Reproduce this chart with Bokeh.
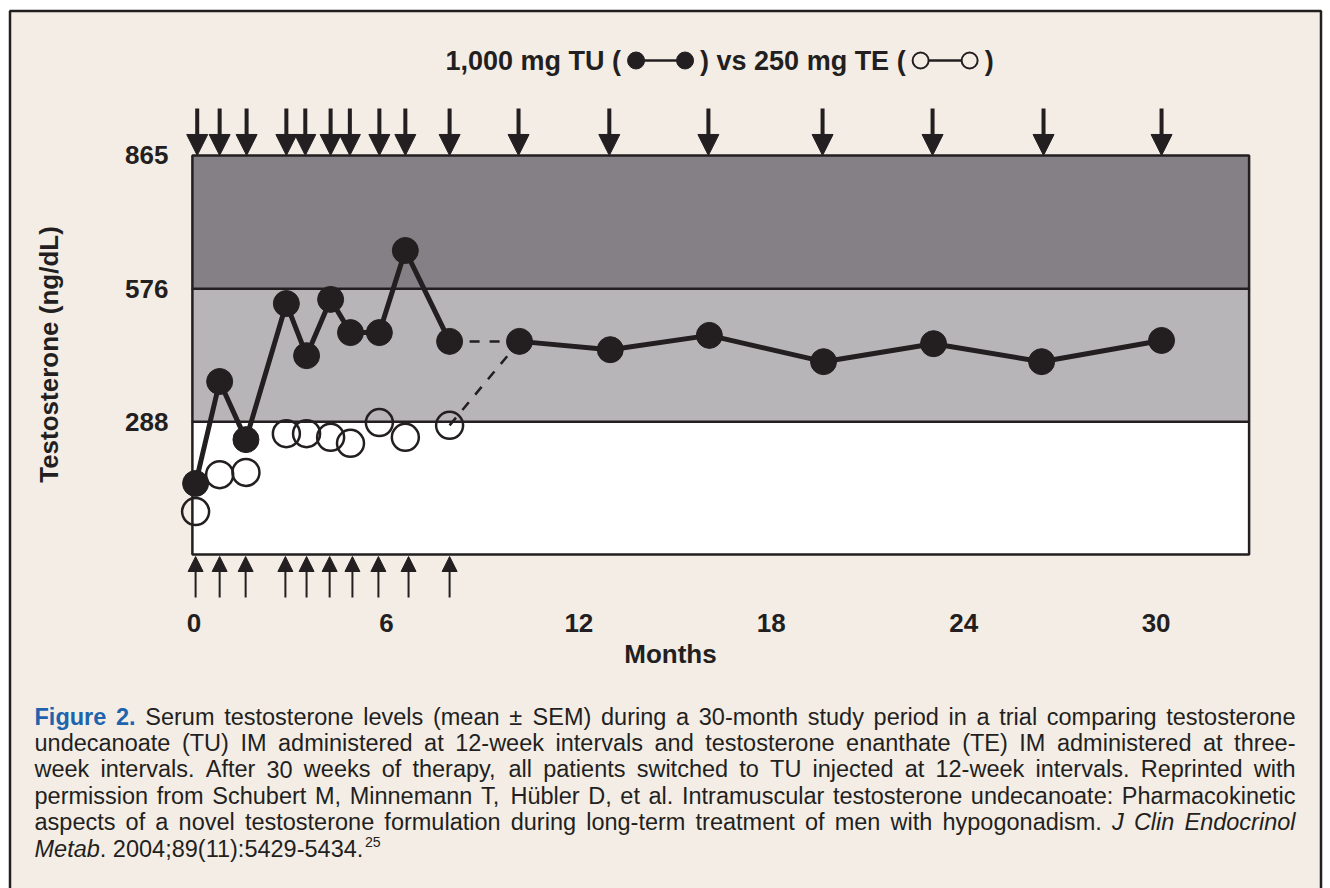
import re
from math import pi
from bokeh.plotting import figure
from bokeh.models import Range1d, Arrow, NormalHead
from bokeh.core.properties import value
from bokeh.embed import file_html
from bokeh.resources import INLINE

# ---------------- data ----------------
months_a = [0.05, 0.80, 1.62, 2.88, 3.51, 4.26, 4.88, 5.78, 6.59, 7.97]
months_b = [10.15, 12.98, 16.07, 19.63, 23.06, 26.43, 30.17]
tu_a = [154, 375, 249, 544, 431, 553, 481, 481, 659, 462]
tu_b = [462, 444, 475, 418, 457, 418, 464]
te_a = [93, 173, 178, 262, 262, 254, 241, 286, 254, 280]

tu_injections = [0.10, 0.80, 1.64, 2.88, 3.47, 4.26, 4.86, 5.78, 6.59, 7.97,
                 10.12, 12.95, 16.04, 19.60, 23.03, 26.49, 30.17]
te_injections = [0.05, 0.80, 1.61, 2.85, 3.51, 4.23, 4.94, 5.75, 6.69, 7.97]

band_edges = [0, 288, 576, 865]
band_colors = ["#ffffff", "#b7b5b8", "#858085"]
chart_x = [-0.05, 32.9]
x_ticks = [0, 6, 12, 18, 24, 30]
y_ticks = [288, 576, 865]

title_parts = ["1,000 mg TU (", ") vs 250 mg TE (", ")"]
x_title = "Months"
y_title = "Testosterone (ng/dL)"
caption_lines = [
    "**Figure 2.** Serum testosterone levels (mean \u00B1 SEM) during a 30-month study period in a trial comparing testosterone",
    "undecanoate (TU) IM administered at 12-week intervals and testosterone enanthate (TE) IM administered at three-",
    "week intervals. After 30 weeks of therapy, all patients switched to TU injected at 12-week intervals. Reprinted with",
    "permission from Schubert M, Minnemann T, H\u00FCbler D, et al. Intramuscular testosterone undecanoate: Pharmacokinetic",
    "aspects of a novel testosterone formulation during long-term treatment of men with hypogonadism. _J Clin Endocrinol_",
    "_Metab_. 2004;89(11):5429-5434.^25",
]

DARK = "#231f20"
BG = "#f3ede6"
BLUE = "#1f63ad"
FONT = "Liberation Sans"

# ---------------- page-pixel -> data helpers (for placing texts) ----------------
X0, XS = 193.5, 32.07      # pixel of month 0, pixels per month
Y0, YS = 554.0, 0.4613     # pixel of 0 ng/dL, pixels per ng/dL


def X(px):
    return (px - X0) / XS


def Y(py):
    return (Y0 - py) / YS


# Arial / Liberation Sans advance widths (1/1000 em)
_REG = dict(zip(" ()-.,:;\u00B1", [278, 333, 333, 333, 278, 278, 278, 278, 584]))
_REG.update({c: 556 for c in "0123456789"})
_REG.update(dict(zip("ABCDEFGHIJKLMNOPQRSTUVWXYZ",
                     [667, 667, 722, 722, 667, 611, 778, 722, 278, 500, 667, 556, 833,
                      722, 778, 667, 778, 722, 667, 611, 722, 667, 944, 667, 667, 611])))
_REG.update(dict(zip("abcdefghijklmnopqrstuvwxyz\u00FC",
                     [556, 556, 500, 556, 556, 278, 556, 556, 222, 222, 500, 222, 833,
                      556, 556, 556, 556, 333, 500, 278, 556, 500, 722, 500, 500, 500, 556])))
_BOLD = dict(zip(" ()-.,", [278, 333, 333, 333, 278, 278]))
_BOLD.update({c: 556 for c in "0123456789"})
_BOLD.update(dict(zip("EFTUegimrsuv", [667, 611, 611, 722, 556, 611, 278, 889, 389, 556, 611, 556])))


def tw(s, bold, size):
    t = _BOLD if bold else _REG
    return sum(t.get(c, 556) for c in s) / 1000.0 * size


p = figure(width=1330, height=888, output_backend="svg", toolbar_location=None,
           x_range=Range1d(X(0), X(1330)), y_range=Range1d(Y(888), Y(0)),
           x_axis_type=None, y_axis_type=None, min_border=0)
p.background_fill_color = "#ffffff"
p.border_fill_color = "#ffffff"
p.outline_line_color = None
p.grid.visible = False

# outer panel
p.quad(left=X(9.5), right=X(1320.5), top=Y(10.5), bottom=Y(950),
       fill_color=BG, line_color=DARK, line_width=2.5)

# reference bands
p.quad(left=chart_x[0], right=chart_x[1], bottom=band_edges[:-1], top=band_edges[1:],
       fill_color=band_colors, line_color=DARK, line_width=2.5)

# injection arrows
for m in tu_injections:
    p.add_layout(Arrow(end=NormalHead(size=21, fill_color=DARK, line_color=DARK, line_width=1),
                       x_start=m, y_start=Y(108), x_end=m, y_end=band_edges[-1],
                       line_color=DARK, line_width=4))
for m in te_injections:
    p.add_layout(Arrow(end=NormalHead(size=15, fill_color=DARK, line_color=DARK, line_width=1),
                       x_start=m, y_start=Y(597), x_end=m, y_end=Y(556),
                       line_color=DARK, line_width=2))

# series
p.scatter(months_a, te_a, marker="circle", size=27, fill_color=None, line_color=DARK, line_width=2.5)
p.line([months_a[-1], months_b[0]], [te_a[-1], tu_b[0]], line_color=DARK, line_width=2.5, line_dash="10 10")
p.line([months_a[-1], months_b[0]], [tu_a[-1], tu_b[0]], line_color=DARK, line_width=2.5, line_dash="10 10")
p.line(months_a, tu_a, line_color=DARK, line_width=5)
p.line(months_b, tu_b, line_color=DARK, line_width=5)
p.scatter(months_a + months_b, tu_a + tu_b, marker="circle", size=26,
          fill_color=DARK, line_color=DARK, line_width=1)

BOLD_TXT = dict(text_font=value(FONT), text_font_style="bold", text_color=DARK, text_baseline="middle")

# tick labels
p.text(x=x_ticks, y=[Y(622)] * len(x_ticks), text=[str(t) for t in x_ticks],
       text_align="center", text_font_size="26px", **BOLD_TXT)
p.text(x=[X(168)] * len(y_ticks), y=y_ticks, text=[str(t) for t in y_ticks],
       text_align="right", text_font_size="26px", **BOLD_TXT)

# axis titles
p.text(x=[X(670)], y=[Y(653)], text=[x_title], text_align="center", text_font_size="26px", **BOLD_TXT)
p.text(x=[X(48)], y=[Y(354)], text=[y_title], angle=pi / 2, text_align="center",
       text_font_size="26px", **BOLD_TXT)

# chart title with legend symbols
TS = 27
tx = 445.0
ty = Y(60)
seg_x, seg_t = [], []
sym_centers = []
for k, part in enumerate(title_parts):
    seg_x.append(X(tx))
    seg_t.append(part)
    tx += tw(part, True, TS)
    if k < 2:
        tx += 6
        sym_centers.append((tx + 9, tx + 58))
        tx += 67 + 6
p.text(x=seg_x, y=[ty] * len(seg_x), text=seg_t, text_align="left", text_font_size=f"{TS}px", **BOLD_TXT)
(a0, a1), (b0, b1) = sym_centers
p.segment(x0=[X(a0), X(b0)], y0=[ty, ty], x1=[X(a1), X(b1)], y1=[ty, ty], line_color=DARK, line_width=2.5)
p.scatter([X(a0), X(a1)], [ty, ty], marker="circle", size=17, fill_color=DARK, line_color=DARK)
p.scatter([X(b0), X(b1)], [ty, ty], marker="circle", size=16, fill_color=BG, line_color=DARK, line_width=2)


# caption: justified, word by word
def parse(line):
    segs = []
    for m in re.finditer(r"\*\*(.+?)\*\*|_(.+?)_|\^(\S+)|([^*_^]+)", line):
        if m.group(1):
            segs.append((m.group(1), "b"))
        elif m.group(2):
            segs.append((m.group(2), "i"))
        elif m.group(3):
            segs.append((m.group(3), "s"))
        else:
            segs.append((m.group(4), "r"))
    words = [[]]
    for text, st in segs:
        parts = text.split(" ")
        for k, part in enumerate(parts):
            if k > 0:
                words.append([])
            if part:
                words[-1].append((part, st))
    return [w for w in words if w]


def piece_w(text, st, fs):
    if st == "s":
        return tw(text, False, fs * 0.6)
    return tw(text, st == "b", fs)


parsed = [parse(l) for l in caption_lines]
left_px, right_px = 34.0, 1295.0
avail = right_px - left_px
nat = []
for words in parsed[:-1]:
    em = sum(piece_w(t, s, 1.0) for w in words for (t, s) in w) + 0.278 * (len(words) - 1)
    nat.append(em)
FS = min(23.5, avail / max(nat))

styles = {"r": ([], [], []), "i": ([], [], []), "b": ([], [], []), "s": ([], [], [])}
for li, words in enumerate(parsed):
    yy = 716 + 26.4 * li
    wsum = sum(piece_w(t, s, FS) for w in words for (t, s) in w)
    if li < len(parsed) - 1 and len(words) > 1:
        gap = (avail - wsum) / (len(words) - 1)
    else:
        gap = 0.278 * FS
    cx = left_px
    for w in words:
        for (t, s) in w:
            xs, ys, ts = styles[s]
            xs.append(X(cx))
            ys.append(Y(yy - 7) if s == "s" else Y(yy))
            ts.append(t)
            cx += piece_w(t, s, FS)
        cx += gap

common = dict(text_font=value(FONT), text_baseline="middle", text_align="left")
xs, ys, ts = styles["r"]
p.text(x=xs, y=ys, text=ts, text_font_size=f"{FS:.2f}px", text_color=DARK, **common)
xs, ys, ts = styles["i"]
p.text(x=xs, y=ys, text=ts, text_font_size=f"{FS:.2f}px", text_font_style="italic", text_color=DARK, **common)
xs, ys, ts = styles["b"]
p.text(x=xs, y=ys, text=ts, text_font_size=f"{FS:.2f}px", text_font_style="bold", text_color=BLUE, **common)
xs, ys, ts = styles["s"]
p.text(x=xs, y=ys, text=ts, text_font_size=f"{FS * 0.6:.2f}px", text_color=DARK, **common)

open("out.html", "w").write(file_html(p, INLINE))
